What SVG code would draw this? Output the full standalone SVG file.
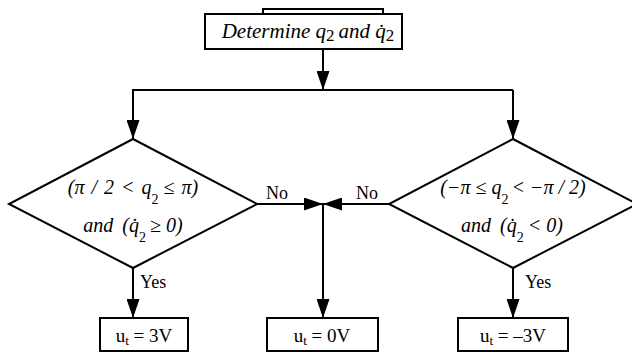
<svg xmlns="http://www.w3.org/2000/svg" width="632" height="354" viewBox="0 0 632 354">
<style>
.box{fill:#fff;stroke:#000;stroke-width:2}
.ln{fill:none;stroke:#000;stroke-width:2}
.t{font-family:"Liberation Serif","Times New Roman",serif;fill:#000}
.i{font-style:italic}
.up{font-style:normal}
</style>
<defs>
<marker id="ah" markerUnits="userSpaceOnUse" markerWidth="19" markerHeight="13" refX="19" refY="6.5" orient="auto">
<path d="M0,0 L19,6.5 L0,13 z" fill="#000"/>
</marker>
</defs>
<rect width="632" height="354" fill="#fff"/>
<path class="ln" d="M263,14 V9 H383 V14"/>
<g id="start">
<rect class="box" x="205" y="14" width="197" height="35"/>
<text class="t i" x="308" y="38" font-size="21" text-anchor="middle">Determine q<tspan class="up" font-size="17" dy="3">2</tspan><tspan dy="-3" dx="4">and q̇</tspan><tspan class="up" font-size="17" dy="3">2</tspan></text>
</g>
<g id="decision-left">
<path class="box" d="M133,139 L257,204 L133,268 L9,204 z"/>
<text class="t i" x="133" y="194" font-size="20" word-spacing="2" text-anchor="middle">(π / 2 &lt; q<tspan class="up" font-size="14" dy="10">2</tspan><tspan dy="-10" dx="5">≤ π)</tspan></text>
<text class="t i" x="133" y="232" font-size="20" text-anchor="middle">and<tspan dx="9">(q̇</tspan><tspan class="up" font-size="14" dy="10">2</tspan><tspan dy="-10" dx="4">≥ 0)</tspan></text>
</g>
<g id="decision-right">
<path class="box" d="M513,139 L637,204 L513,268 L389,204 z"/>
<text class="t i" x="513" y="194" font-size="20" text-anchor="middle">(−π ≤ q<tspan class="up" font-size="14" dy="10">2</tspan><tspan dy="-10" dx="3">&lt; −π / 2)</tspan></text>
<text class="t i" x="512" y="232" font-size="20" text-anchor="middle">and<tspan dx="9">(q̇</tspan><tspan class="up" font-size="14" dy="10">2</tspan><tspan dy="-10" dx="4">&lt; 0)</tspan></text>
</g>
<g id="out-left">
<rect class="box" x="100" y="318" width="88" height="33"/>
<text class="t" x="144" y="342" font-size="19" text-anchor="middle">u<tspan font-size="13" dy="3">t</tspan><tspan dy="-3"> = 3V</tspan></text>
</g>
<g id="out-mid">
<rect class="box" x="267" y="318" width="111" height="33"/>
<text class="t" x="322" y="342" font-size="19" text-anchor="middle">u<tspan font-size="13" dy="3">t</tspan><tspan dy="-3"> = 0V</tspan></text>
</g>
<g id="out-right">
<rect class="box" x="458" y="318" width="110" height="33"/>
<text class="t" x="513" y="342" font-size="19" text-anchor="middle">u<tspan font-size="13" dy="3">t</tspan><tspan dy="-3"> = –3V</tspan></text>
</g>
<g id="connectors">
<path class="ln" d="M323,49 V90" marker-end="url(#ah)"/>
<path class="ln" d="M132,90 H513"/>
<path class="ln" d="M133,90 V139" marker-end="url(#ah)"/>
<path class="ln" d="M513,90 V139" marker-end="url(#ah)"/>
<path class="ln" d="M257,204 H323" marker-end="url(#ah)"/>
<path class="ln" d="M389,204 H323" marker-end="url(#ah)"/>
<path class="ln" d="M323,204 V318" marker-end="url(#ah)"/>
<path class="ln" d="M133,268 V318" marker-end="url(#ah)"/>
<path class="ln" d="M513,268 V318" marker-end="url(#ah)"/>
<text class="t" x="266" y="199" font-size="18">No</text>
<text class="t" x="356" y="199" font-size="18">No</text>
<text class="t" x="140" y="288" font-size="18">Yes</text>
<text class="t" x="525" y="288" font-size="18">Yes</text>
</g>
</svg>
